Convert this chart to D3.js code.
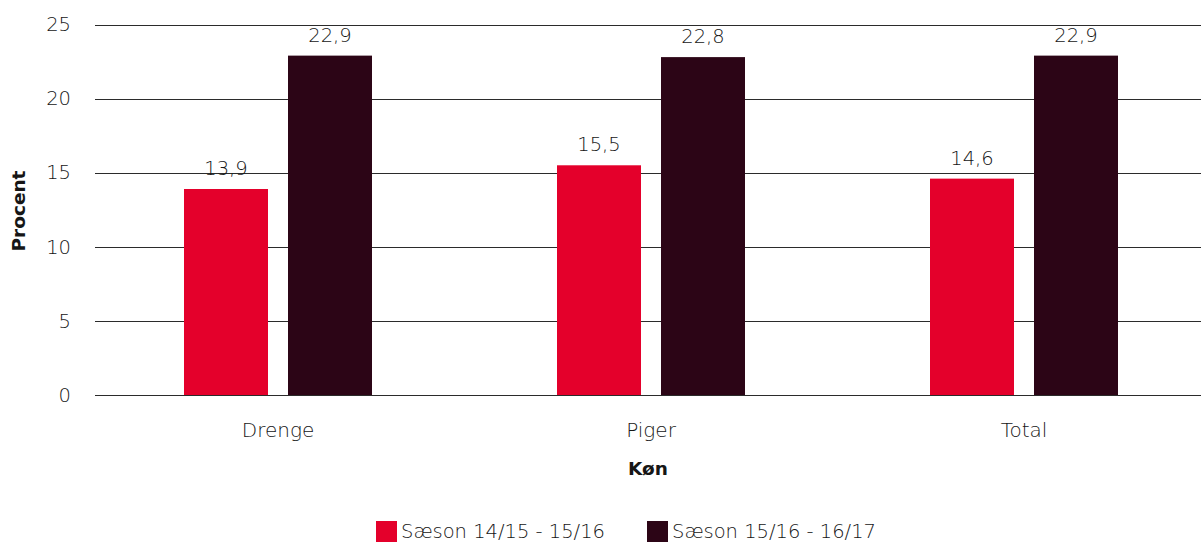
<!DOCTYPE html>
<html>
<head>
<meta charset="utf-8">
<script src="https://cdn.jsdelivr.net/npm/d3@7"></script>
<style>
  html, body { margin: 0; padding: 0; background: #fff; }
  svg text { font-family: "DejaVu Sans", sans-serif; fill: #161616; }
</style>
</head>
<body>
<svg id="chart" width="1201" height="542"></svg>
<script>
// Categories (gender) and the two season series, in percent
const categories = ["Drenge", "Piger", "Total"];
const seriesNames = ["Sæson 14/15 - 15/16", "Sæson 15/16 - 16/17"];
const season1 = [13.9, 15.5, 14.6];
const season2 = [22.9, 22.8, 22.9];
const yTicks = [0, 5, 10, 15, 20, 25];
const colors = ["#e4002b", "#2c0516"];

const svg = d3.select("#chart");
const plotTop = 24.5, plotBottom = 395;
const gridLeft = 95, gridRight = 1201;

const x = d3.scaleBand().domain(categories).range([91.5, 1210.5]).paddingInner(0).paddingOuter(0);
const barW = 84, barGap = 20;
const y = d3.scaleLinear().domain([0, 25]).range([plotBottom, plotTop]);

const fmt = v => d3.format(".1f")(v).replace(".", ",");
const labelSize = "19.5px";
const textColor = "#161616";

// horizontal gridlines
svg.append("g")
  .selectAll("line")
  .data(yTicks)
  .join("line")
  .attr("x1", gridLeft).attr("x2", gridRight)
  .attr("y1", d => Math.round(y(d)) + 0.5).attr("y2", d => Math.round(y(d)) + 0.5)
  .attr("stroke", "#2b2b2b").attr("stroke-width", 1);

// y axis tick labels
const yAxis = d3.axisLeft(y).tickValues(yTicks).tickSize(0).tickPadding(0);
const gy = svg.append("g").attr("transform", "translate(71,0)").call(yAxis);
gy.select(".domain").remove();
gy.selectAll("text")
  .style("font-family", "'DejaVu Sans', sans-serif")
  .style("font-size", labelSize).style("font-weight", 300)
  .attr("fill", textColor);

// x axis category labels
const xAxis = d3.axisBottom(x).tickSize(0).tickPadding(0);
const gx = svg.append("g").call(xAxis);
gx.select(".domain").remove();
gx.selectAll("text")
  .attr("y", 437).attr("dy", null)
  .style("font-family", "'DejaVu Sans', sans-serif")
  .style("font-size", "20px").style("font-weight", 300)
  .attr("fill", textColor);

// bars and value labels
const series = [season1, season2];
series.forEach((vals, si) => {
  const offset = si === 0 ? -(barGap / 2 + barW) : barGap / 2;
  const data = categories.map((c, i) => ({ c, v: vals[i] }));
  const g = svg.append("g");
  g.selectAll("rect")
    .data(data)
    .join("rect")
    .attr("x", d => x(d.c) + x.bandwidth() / 2 + offset)
    .attr("width", barW)
    .attr("y", d => y(d.v))
    .attr("height", d => y(0) - y(d.v))
    .attr("fill", colors[si]);
  g.selectAll("text")
    .data(data)
    .join("text")
    .attr("x", d => x(d.c) + x.bandwidth() / 2 + offset + barW / 2)
    .attr("y", d => y(d.v) - 14)
    .attr("text-anchor", "middle")
    .style("font-size", labelSize).style("font-weight", 300)
    .text(d => fmt(d.v));
});

// axis titles
svg.append("text")
  .attr("transform", "translate(25,211) rotate(-90)")
  .attr("text-anchor", "middle")
  .style("font-size", "18.5px").style("font-weight", 700)
  .attr("fill", "#000")
  .text("Procent");

svg.append("text")
  .attr("x", 648).attr("y", 475)
  .attr("text-anchor", "middle")
  .style("font-size", "18.5px").style("font-weight", 700)
  .attr("fill", "#000")
  .text("Køn");

// legend
const legendX = [376, 647];
const lg = svg.append("g");
seriesNames.forEach((name, i) => {
  lg.append("rect")
    .attr("x", legendX[i]).attr("y", 521)
    .attr("width", 21).attr("height", 21)
    .attr("fill", colors[i]);
  lg.append("text")
    .attr("x", legendX[i] + 25).attr("y", 538)
    .style("font-size", "19.5px").style("font-weight", 300)
    .text(name);
});
</script>
</body>
</html>
